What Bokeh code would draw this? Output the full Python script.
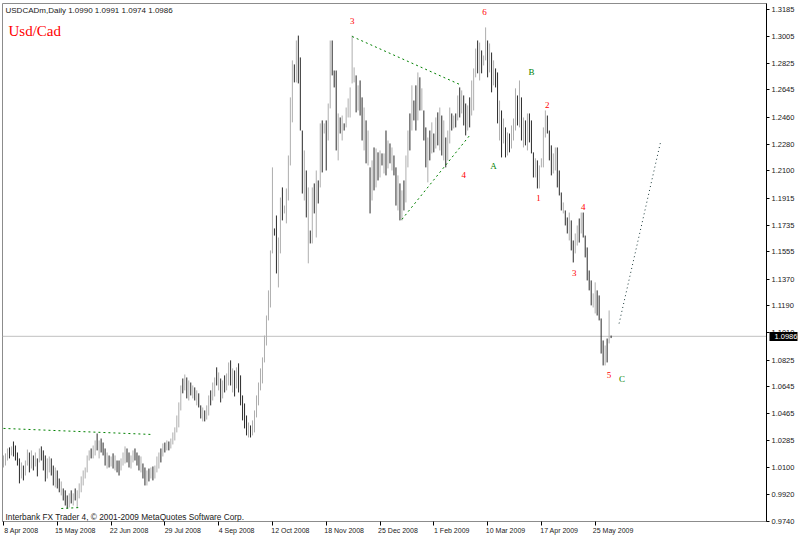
from bokeh.plotting import figure
from bokeh.models import Range1d, FixedTicker, PrintfTickFormatter, Span, Label, LinearAxis
from bokeh.core.properties import value
from bokeh.embed import file_html
from bokeh.resources import INLINE

# ---------------- data ----------------
high = [1.0184,1.0198,1.0231,1.0238,1.0245,1.0278,1.0251,1.0204,1.0164,1.0137,
1.0116,1.0150,1.0224,1.0204,1.0218,1.0184,1.0204,1.0164,1.0231,1.0245,
1.0218,1.0184,1.0164,1.0177,1.0164,1.0116,1.0103,1.0083,1.0029,1.0009,
0.9962,0.9949,0.9915,0.9929,0.9949,0.9929,0.9962,0.9949,0.9996,1.0043,
1.0083,1.0103,1.0184,1.0218,1.0231,1.0251,1.0285,1.0332,1.0285,1.0298,
1.0271,1.0231,1.0204,1.0184,1.0177,1.0198,1.0184,1.0150,1.0150,1.0164,
1.0204,1.0245,1.0231,1.0204,1.0184,1.0218,1.0231,1.0204,1.0184,1.0177,
1.0130,1.0103,1.0083,1.0096,1.0103,1.0110,1.0116,1.0177,1.0204,1.0231,
1.0265,1.0271,1.0285,1.0278,1.0298,1.0339,1.0373,1.0453,1.0541,1.0655,
1.0702,1.0729,1.0709,1.0689,1.0675,1.0655,1.0642,1.0622,1.0602,1.0521,
1.0507,1.0487,1.0521,1.0588,1.0622,1.0675,1.0709,1.0777,1.0743,1.0702,
1.0689,1.0723,1.0736,1.0810,1.0824,1.0770,1.0756,1.0777,1.0804,1.0723,
1.0588,1.0534,1.0453,1.0406,1.0386,1.0420,1.0487,1.0588,1.0675,1.0770,
1.0844,1.0991,1.1126,1.1295,1.1564,1.2123,1.1712,1.1799,1.1651,1.1920,
1.1988,1.1866,1.1981,1.2203,1.2594,1.2843,1.2816,1.2977,1.3010,1.2863,
1.2371,1.2237,1.2102,1.1988,1.1698,1.1988,1.2015,1.2102,1.2035,1.2419,
1.2439,1.2419,1.2439,1.2553,1.2977,1.2977,1.2775,1.2775,1.2486,1.2459,
1.2472,1.2419,1.2526,1.2587,1.2661,1.3010,1.2796,1.2742,1.2675,1.2708,
1.2594,1.2526,1.2439,1.2371,1.2123,1.2170,1.2257,1.2250,1.2224,1.2237,
1.2217,1.2217,1.2371,1.2304,1.2284,1.2257,1.2203,1.2123,1.2069,1.2015,
1.1968,1.2035,1.2203,1.2371,1.2486,1.2675,1.2573,1.2675,1.2762,1.2729,
1.2655,1.2506,1.2392,1.2324,1.2371,1.2426,1.2351,1.2459,1.2493,1.2526,
1.2472,1.2439,1.2324,1.2371,1.2526,1.2486,1.2472,1.2486,1.2607,1.2661,
1.2641,1.2607,1.2553,1.2540,1.2594,1.2708,1.2789,1.2923,1.2977,1.2963,
1.2910,1.2876,1.3065,1.2977,1.2957,1.2896,1.2843,1.2789,1.2762,1.2573,
1.2506,1.2452,1.2392,1.2358,1.2351,1.2405,1.2452,1.2655,1.2607,1.2708,
1.2594,1.2459,1.2439,1.2486,1.2486,1.2439,1.2224,1.2184,1.2170,1.2136,
1.2184,1.2392,1.2506,1.2472,1.2371,1.2271,1.2217,1.2257,1.2257,1.2102,
1.1954,1.1887,1.1833,1.1786,1.1819,1.1766,1.1631,1.1678,1.1732,1.1779,
1.1819,1.1819,1.1664,1.1584,1.1429,1.1362,1.1275,1.1349,1.1295,1.1261,
1.1106,1.0958,1.0924,1.0971,1.1160,1.0991]

low = [1.0103,1.0116,1.0150,1.0164,1.0184,1.0177,1.0150,1.0116,0.9996,1.0029,
1.0016,1.0049,1.0116,1.0070,1.0096,1.0083,1.0110,1.0043,1.0137,1.0150,
1.0083,1.0009,1.0029,1.0070,1.0049,0.9982,0.9969,0.9962,0.9936,0.9915,
0.9881,0.9847,0.9827,0.9834,0.9861,0.9847,0.9881,0.9834,0.9895,0.9936,
0.9982,1.0029,1.0070,1.0150,1.0164,1.0164,1.0184,1.0218,1.0164,1.0204,
1.0184,1.0116,1.0096,1.0103,1.0110,1.0096,1.0083,1.0070,1.0049,1.0083,
1.0116,1.0130,1.0137,1.0103,1.0096,1.0137,1.0150,1.0116,1.0083,1.0070,
1.0029,0.9982,0.9982,1.0009,1.0029,1.0016,1.0029,1.0070,1.0096,1.0137,
1.0177,1.0204,1.0218,1.0218,1.0231,1.0258,1.0285,1.0339,1.0373,1.0487,
1.0602,1.0622,1.0568,1.0554,1.0588,1.0568,1.0554,1.0521,1.0507,1.0433,
1.0413,1.0413,1.0426,1.0453,1.0521,1.0554,1.0581,1.0655,1.0622,1.0541,
1.0568,1.0608,1.0622,1.0655,1.0655,1.0608,1.0581,1.0635,1.0608,1.0521,
1.0420,1.0366,1.0319,1.0305,1.0305,1.0319,1.0339,1.0440,1.0521,1.0622,
1.0669,1.0810,1.0924,1.1093,1.1180,1.1544,1.1664,1.1409,1.1315,1.1544,
1.1766,1.1813,1.1746,1.1900,1.2136,1.2426,1.2695,1.2695,1.2688,1.2371,
1.1947,1.1900,1.1786,1.1477,1.1611,1.1611,1.1813,1.1651,1.1880,1.1988,
1.2089,1.2351,1.2102,1.2304,1.2520,1.2742,1.2661,1.2237,1.2170,1.2351,
1.2304,1.2371,1.2392,1.2459,1.2459,1.2688,1.2695,1.2493,1.2506,1.2472,
1.2304,1.2237,1.2150,1.2136,1.1813,1.1900,1.1968,1.1988,1.2035,1.2055,
1.2136,1.2082,1.2069,1.2116,1.2150,1.2102,1.2069,1.1866,1.1833,1.1766,
1.1766,1.1833,1.1887,1.2123,1.2237,1.2371,1.2439,1.2371,1.2439,1.2506,
1.2506,1.2304,1.2123,1.2022,1.2170,1.2217,1.2224,1.2250,1.2271,1.2237,
1.2203,1.2170,1.2123,1.2170,1.2284,1.2371,1.2385,1.2392,1.2439,1.2459,
1.2486,1.2405,1.2338,1.2371,1.2392,1.2472,1.2506,1.2729,1.2756,1.2708,
1.2756,1.2809,1.2843,1.2729,1.2762,1.2628,1.2675,1.2661,1.2419,1.2304,
1.2190,1.2284,1.2190,1.2203,1.2224,1.2250,1.2304,1.2371,1.2405,1.2392,
1.2304,1.2257,1.2271,1.2237,1.2291,1.2217,1.2055,1.2055,1.1981,1.1981,
1.2123,1.2123,1.2324,1.2351,1.2170,1.2069,1.2082,1.2102,1.1988,1.1934,
1.1833,1.1813,1.1732,1.1678,1.1631,1.1564,1.1483,1.1544,1.1597,1.1617,
1.1678,1.1651,1.1517,1.1362,1.1295,1.1194,1.1180,1.1140,1.1126,1.1093,
1.0870,1.0790,1.0790,1.0810,1.0938,1.0974]

close = [1.0116,1.0184,1.0218,1.0184,1.0231,1.0204,1.0164,1.0137,1.0029,1.0116,
1.0049,1.0137,1.0204,1.0096,1.0184,1.0103,1.0184,1.0070,1.0218,1.0184,
1.0116,1.0029,1.0137,1.0150,1.0083,1.0016,1.0083,0.9982,0.9949,0.9982,
0.9895,0.9868,0.9847,0.9915,0.9881,0.9915,0.9895,0.9936,0.9982,1.0029,
1.0070,1.0083,1.0164,1.0204,1.0184,1.0231,1.0271,1.0251,1.0271,1.0218,
1.0204,1.0137,1.0184,1.0116,1.0150,1.0110,1.0164,1.0083,1.0070,1.0150,
1.0184,1.0231,1.0164,1.0116,1.0164,1.0204,1.0184,1.0164,1.0103,1.0137,
1.0043,1.0009,1.0070,1.0029,1.0083,1.0036,1.0103,1.0150,1.0184,1.0164,
1.0251,1.0218,1.0271,1.0258,1.0285,1.0325,1.0352,1.0433,1.0521,1.0635,
1.0622,1.0709,1.0588,1.0675,1.0608,1.0642,1.0581,1.0588,1.0521,1.0446,
1.0487,1.0433,1.0500,1.0568,1.0554,1.0655,1.0689,1.0675,1.0723,1.0568,
1.0675,1.0635,1.0716,1.0790,1.0689,1.0743,1.0608,1.0756,1.0635,1.0541,
1.0440,1.0386,1.0339,1.0386,1.0319,1.0406,1.0467,1.0568,1.0655,1.0750,
1.0824,1.0971,1.1106,1.1281,1.1530,1.2069,1.1678,1.1429,1.1597,1.1900,
1.1799,1.1853,1.1954,1.2170,1.2573,1.2809,1.2708,1.2943,1.2742,1.2405,
1.2001,1.2203,1.1819,1.1934,1.1631,1.1968,1.1833,1.2069,1.1900,1.2385,
1.2116,1.2405,1.2136,1.2526,1.2943,1.2775,1.2675,1.2271,1.2452,1.2371,
1.2452,1.2385,1.2506,1.2573,1.2641,1.2708,1.2722,1.2520,1.2655,1.2506,
1.2338,1.2493,1.2184,1.2338,1.1846,1.2136,1.2001,1.2224,1.2069,1.2203,
1.2156,1.2184,1.2102,1.2271,1.2170,1.2237,1.2089,1.1900,1.2035,1.1799,
1.1934,1.1866,1.2170,1.2338,1.2271,1.2641,1.2472,1.2405,1.2722,1.2540,
1.2628,1.2338,1.2170,1.2304,1.2203,1.2385,1.2250,1.2439,1.2304,1.2493,
1.2237,1.2405,1.2150,1.2338,1.2506,1.2392,1.2452,1.2405,1.2587,1.2493,
1.2621,1.2439,1.2371,1.2520,1.2426,1.2681,1.2762,1.2896,1.2775,1.2943,
1.2775,1.2856,1.3030,1.2762,1.2930,1.2655,1.2809,1.2681,1.2452,1.2540,
1.2224,1.2426,1.2217,1.2338,1.2250,1.2385,1.2426,1.2628,1.2439,1.2675,
1.2338,1.2426,1.2304,1.2459,1.2318,1.2237,1.2089,1.2156,1.2001,1.2116,
1.2136,1.2371,1.2472,1.2371,1.2203,1.2102,1.2190,1.2237,1.2015,1.1954,
1.1853,1.1866,1.1752,1.1698,1.1799,1.1584,1.1510,1.1651,1.1712,1.1644,
1.1799,1.1793,1.1537,1.1382,1.1315,1.1227,1.1254,1.1342,1.1146,1.1113,
1.0891,1.0857,1.0911,1.0824,1.1126,1.0986]

last_price = 1.0986
date_labels = ["8 Apr 2008", "15 May 2008", "22 Jun 2008", "29 Jul 2008", "4 Sep 2008",
               "12 Oct 2008", "18 Nov 2008", "25 Dec 2008", "1 Feb 2009", "10 Mar 2009",
               "17 Apr 2009", "25 May 2009"]
bars_per_label = 27
price_ticks = [1.3185, 1.3005, 1.2825, 1.2645, 1.2460, 1.2280, 1.2100, 1.1915, 1.1735,
               1.1555, 1.1370, 1.1190, 1.1010, 1.0825, 1.0645, 1.0465, 1.0285, 1.0100,
               0.9920, 0.9740]

# wave count annotations (bar index, price)
wave_text = ["3", "6", "B", "2", "A", "4", "1", "4", "3", "5", "C"]
wave_bar = [175, 241.5, 265, 273, 246, 231, 268.5, 291, 286.5, 304, 310.5]
wave_price = [1.3105, 1.3166, 1.2762, 1.2540, 1.2130, 1.2069, 1.1914, 1.1853, 1.1409, 1.0723, 1.0696]
wave_color = ["#ff0000", "#ff0000", "#008000", "#ff0000", "#008000", "#ff0000", "#ff0000",
              "#ff0000", "#ff0000", "#ff0000", "#008000"]

# drawn trend lines (bar index pairs, price pairs)
green_lines_bars = [[0, 75], [29, 39], [175, 230], [200, 234]]
green_lines_prices = [[1.0366, 1.0325], [0.9827, 0.9834], [1.3004, 1.2675], [1.1773, 1.2338]]
projection_bars = [309, 330]
projection_prices = [1.1072, 1.2304]

# ---------------- figure ----------------
n = len(high)
idx = list(range(n))
opens = [close[0]] + close[:-1]
colors = ["#aeaeae" if c >= o else "#2a2a2a" for o, c in zip(opens, close)]

p = figure(width=800, height=536, output_backend="svg", toolbar_location=None,
           x_range=Range1d(-0.5, 383), y_range=Range1d(0.97395, 1.3226),
           y_axis_location="right", min_border_left=2, min_border_top=3,
           min_border_right=31, min_border_bottom=15)
p.background_fill_color = "white"
p.border_fill_color = "white"
p.outline_line_color = "#8c8c8c"
p.grid.visible = False

# current price line
p.add_layout(Span(location=last_price, dimension="width", line_color="#c0c0c0",
                  line_width=1, level="underlay"))

p.segment(x0=idx, y0=low, x1=idx, y1=high, line_color=colors, line_width=1)

for bx, py in zip(green_lines_bars, green_lines_prices):
    p.line(bx, py, line_color="#008000", line_width=1, line_dash="2 3")
p.line(projection_bars, projection_prices, line_color="#1c3a3a", line_width=1, line_dash="1 3")

p.text(x=wave_bar, y=wave_price, text=wave_text, text_color=wave_color,
       text_font=value("Liberation Serif"), text_font_size="9px",
       text_align="center", text_baseline="middle")

# right price axis
ya = p.yaxis[0]
ya.ticker = FixedTicker(ticks=price_ticks)
ya.formatter = PrintfTickFormatter(format="%.4f")
ya.axis_line_color = "black"
ya.major_tick_line_color = "black"
ya.major_tick_out = 3
ya.major_tick_in = 0
ya.minor_tick_line_color = None
ya.major_label_standoff = 2
ya.major_label_text_font = "Liberation Sans"
ya.major_label_text_font_size = "7.5px"
ya.major_label_text_color = "#202020"

# current-price marker (black box with white price) on the price axis
marker_axis = LinearAxis(ticker=FixedTicker(ticks=[last_price]),
                         formatter=PrintfTickFormatter(format="%.4f"),
                         axis_line_color=None, major_tick_out=0, major_tick_in=28,
                         major_tick_line_color="black", major_tick_line_width=9,
                         minor_tick_line_color=None, major_label_standoff=-23,
                         major_label_text_color="white",
                         major_label_text_font="Liberation Sans",
                         major_label_text_font_size="7.5px")
p.add_layout(marker_axis, "right")

# bottom date axis: tick marks only (labels not drawn) ...
xa = p.xaxis[0]
tick_pos = [k * bars_per_label for k in range(len(date_labels))]
xa.ticker = FixedTicker(ticks=tick_pos)
xa.axis_line_color = "#8c8c8c"
xa.major_tick_line_color = "black"
xa.major_tick_out = 4
xa.major_tick_in = 0
xa.minor_tick_line_color = None
xa.major_label_standoff = 0
xa.major_label_text_color = None
xa.major_label_text_font_size = "1px"

# ... and the date labels, each starting at its tick
label_shift = 9
label_pos = [t + label_shift for t in tick_pos]
date_axis = LinearAxis(ticker=FixedTicker(ticks=label_pos),
                       major_label_overrides={pos: lab for pos, lab in zip(label_pos, date_labels)},
                       axis_line_color=None, major_tick_out=0, major_tick_in=0,
                       major_tick_line_color=None, minor_tick_line_color=None,
                       major_label_standoff=1, major_label_text_font="Liberation Sans",
                       major_label_text_font_size="7px", major_label_text_color="#202020")
p.add_layout(date_axis, "below")

# texts
p.add_layout(Label(x=1, y=1.3206, text="USDCADm,Daily  1.0990 1.0991 1.0974 1.0986",
                   text_font="Liberation Sans", text_font_size="8px",
                   text_color="#202020", text_baseline="top", text_align="left"))
p.add_layout(Label(x=2.5, y=1.3040, text="Usd/Cad", text_font="Liberation Serif",
                   text_font_size="15px", text_color="#ff0000",
                   text_baseline="alphabetic", text_align="left"))
p.add_layout(Label(x=1, y=0.9773,
                   text="Interbank FX Trader 4, \u00a9 2001-2009 MetaQuotes Software Corp.",
                   text_font="Liberation Sans", text_font_size="8.3px",
                   text_color="#202020", text_baseline="alphabetic", text_align="left"))

open("out.html", "w").write(file_html(p, INLINE))
